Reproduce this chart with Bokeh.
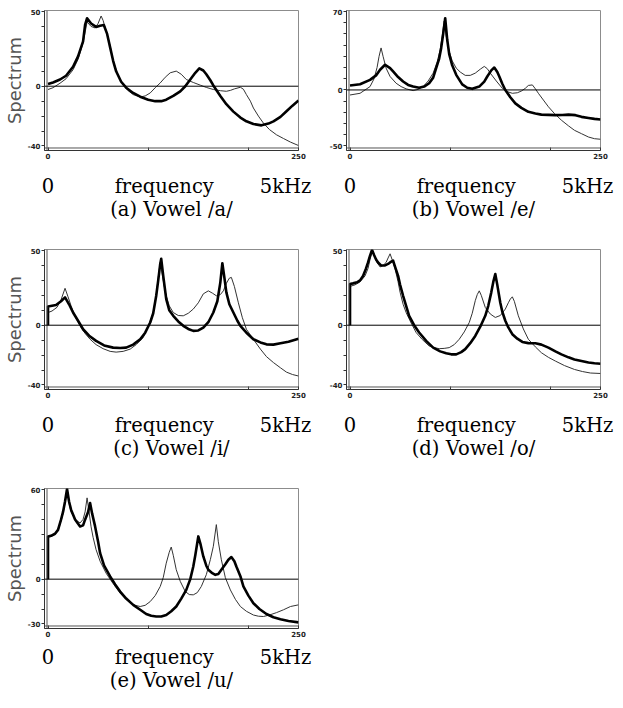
from bokeh.plotting import figure
from bokeh.layouts import column, row
from bokeh.models import Range1d, Span, LinearAxis, FixedTicker
from bokeh.embed import file_html
from bokeh.resources import INLINE

# ---------------- data ----------------
X_TICKS = [0, 100, 200, 250]
X_TICK_LABELS = {0: "0", 100: "", 200: "", 250: "250"}
FREQ_TICKS = [0, 116, 237]
FREQ_LABELS = {0: "0", 116: "frequency", 237: "5kHz"}
Y_LABEL = "Spectrum"

captions = ["(a) Vowel /a/", "(b) Vowel /e/", "(c) Vowel /i/", "(d) Vowel /o/", "(e) Vowel /u/"]
y_min = [-40, -50, -40, -40, -30]
y_max = [50, 70, 50, 50, 60]

a_thick_x = [0, 5, 12, 18, 25, 30, 35, 37, 39, 43, 48, 52, 55.7, 59, 62, 65, 68, 73, 78, 85, 92, 100, 107, 113,
             118, 125, 132, 137, 142, 147, 151, 155, 158, 162, 165, 172, 178, 185, 192, 198, 205, 213, 220, 225,
             232, 238, 244, 250]
a_thick_y = [1.5, 2.5, 4.5, 7, 13, 20, 30, 41, 45.5, 42, 39.7, 40.5, 41, 35, 26, 17, 10, 3, -1, -4.5, -7, -9, -10,
             -10, -9, -6.5, -3.4, 0, 4.5, 9, 11.9, 10.5, 8, 4, 0.5, -6.5, -12, -17, -21, -23.5, -25.3, -26.2, -25,
             -23.5, -20.5, -16.8, -13, -9.6]
a_thin_x = [0, 5, 12, 18, 25, 30, 35, 39, 43, 47, 50, 53, 55, 58, 62, 65, 70, 75, 80, 85, 92, 97, 102, 107, 112,
            117, 122, 128, 133, 138, 145, 152, 158, 165, 172, 178, 182, 186, 192, 195, 198, 202, 205, 210, 215,
            221, 228, 235, 242, 250]
a_thin_y = [-2.2, -1, 2, 5, 11, 18, 29, 43, 40, 39, 42, 47, 44, 37, 27, 17, 7, 1, -3, -5.6, -7.2, -6.5, -4.5, -1,
            2.2, 6, 9, 10.1, 8, 4.5, 2.5, 0.7, -0.8, -2.2, -3, -3.4, -2.8, -1.8, -0.7, -2, -5.6, -10, -14.6, -20,
            -24.7, -29, -32.5, -35, -37.4, -39.7]

b_thick_x = [0, 10, 20, 26, 30, 35, 40, 43, 48, 53, 58, 63, 69, 74, 79, 83, 86, 89, 91, 93, 95, 97, 99, 102, 106,
             112, 117, 122, 129, 134, 137, 141, 144, 147, 149, 152, 155, 160, 165, 171, 178, 185, 191, 198, 205,
             212, 218, 225, 231, 238, 244, 250]
b_thick_y = [3.9, 5.1, 9, 13, 18, 22.5, 19.5, 16.5, 11.5, 7.5, 4.5, 3, 2, 3, 6, 11, 19.5, 28, 37.5, 50, 64, 45, 32,
             22, 13.5, 5, 2, 1, 3, 7.5, 12, 17.5, 20, 16, 12, 5.5, 0, -6.5, -12, -16, -19.5, -21, -22, -22.2,
             -22.5, -22.3, -22, -22.5, -24, -25, -25.8, -26.4]
b_thin_x = [0, 10, 20, 24, 27, 29, 31, 33, 36, 40, 46, 51, 56, 63, 68, 73, 78, 83, 87, 90, 92, 94, 96, 99, 102,
            106, 110, 115, 120, 125, 130, 134, 137, 140, 146, 152, 157, 162, 167, 171, 175, 178, 182, 185, 188,
            193, 198, 204, 211, 218, 224, 231, 238, 244, 250]
b_thin_y = [-4.5, -3, 3, 10, 20, 30, 37.5, 30, 19.5, 12, 6, 3, 1, -0.6, 0.5, 3, 8, 15, 25, 36, 48, 61.5, 48, 34.5,
            26, 19.5, 16, 13, 13, 15, 18.5, 21, 19, 15, 8, 1.5, -1.5, -3, -2.5, -1, 1.5, 4, 4.5, 1, -3, -9, -15,
            -21, -27, -32, -36, -39, -42, -43.5, -44]

c_thick_x = [0, 0, 4, 8, 13, 17, 21, 25, 30, 35, 41, 48, 56, 65, 72, 78, 85, 92, 97, 102, 105, 108, 110, 112, 113,
             115, 118, 121, 125, 130, 135, 140, 145, 150, 155, 160, 165, 169, 172, 174, 176, 178, 181, 185, 189,
             192, 198, 205, 212, 218, 225, 232, 240, 250]
c_thick_y = [0, 12.5, 13, 13.5, 16, 18.6, 14, 8.5, 3, -2.7, -7, -10.5, -13.5, -15, -15.2, -15, -13, -9.4, -5, 1.8,
             8, 19.7, 30, 41, 44.4, 33, 17.5, 10, 6.3, 2.5, -0.4, -2.5, -3.8, -3.5, -1.6, 2, 8.5, 16, 28.7, 41.5,
             32, 22, 14, 8.5, 3, -0.4, -5, -9.4, -11.5, -12.8, -13, -12.1, -11, -9]
c_thin_x = [0, 0, 4, 9, 13, 17, 20, 23, 27, 32, 37, 42, 48, 55, 62, 68, 75, 82, 88, 95, 100, 105, 108, 110, 112,
            114, 116, 118, 121, 125, 130, 135, 140, 145, 150, 155, 160, 164, 168, 172, 175, 178, 181, 183, 186,
            190, 194, 198, 205, 212, 218, 225, 232, 238, 244, 250]
c_thin_y = [0, 8.5, 9.5, 12, 17, 24.7, 19, 13, 6, -0.4, -5.5, -9.4, -13, -15.7, -17.5, -18, -17.5, -16, -13, -8.3,
            -1, 8.5, 20, 32, 42, 34, 26, 19.7, 13, 8.5, 6.5, 6.3, 8, 10.8, 15, 21, 23, 21.5, 19.7, 20.5, 23, 28,
            31.5, 32, 26, 15, 5, -2.7, -9.5, -16, -21, -25, -28.5, -31.4, -33, -34]

d_thick_x = [0, 0, 3, 7, 10, 13, 16, 18, 20, 22, 24, 26, 28, 31, 35, 38, 40, 43, 45, 48, 50, 53, 56, 59, 64, 69,
             76, 83, 90, 96, 101, 106, 111, 115, 120, 125, 130, 135, 138, 141, 143, 145, 147, 150, 152, 155, 158,
             162, 167, 172, 178, 185, 191, 198, 205, 211, 218, 224, 231, 238, 244, 250]
d_thick_y = [0, 27.6, 28, 28.7, 30, 33, 38, 42, 46.5, 50.4, 47, 44, 42, 40, 40, 41, 42, 43.3, 39, 33, 27, 19.7, 13,
             6.3, 0, -4.9, -10.5, -15, -17.5, -18.8, -19.5, -19.5, -18, -16, -12, -7.2, -1, 6.3, 13, 22, 29, 34.3,
             27, 15, 9, 3, -1.5, -6, -9, -11.2, -12, -12.1, -13, -15, -17.5, -19.5, -21.5, -22.9, -24, -25, -25.5,
             -25.8]
d_thin_x = [0, 0, 5, 10, 15, 18, 20, 22, 24, 27, 30, 33, 36, 38, 40, 42, 45, 48, 50, 53, 56, 61, 66, 72, 79, 84,
            89, 94, 99, 104, 109, 114, 119, 122, 125, 127, 129, 131, 135, 140, 145, 150, 155, 158, 160, 162, 164,
            168, 173, 178, 185, 191, 198, 205, 214, 224, 232, 240, 250]
d_thin_y = [0, 26, 27, 29, 33, 38, 44, 49, 47, 42, 39, 40, 42, 45, 47.8, 44, 37.7, 29, 22, 14, 8.5, 1.5, -4.9,
            -9.5, -13.9, -15, -15.7, -15.5, -15, -13, -9.4, -4.5, 1.8, 8, 16.4, 20.5, 23, 20, 11.9, 7.5, 5.2, 6.5,
            10.8, 15, 17.5, 19, 16, 6.3, -2.5, -9.4, -14.5, -18.4, -21.5, -24, -27, -29.6, -31, -32, -32.3]

e_thick_x = [0, 0, 3, 7, 10, 13, 15, 17, 19, 21, 23, 27, 32, 35, 37, 40, 42, 44, 47, 50, 52, 56, 62, 67, 72, 78,
             85, 92, 98, 103, 108, 113, 118, 123, 128, 133, 138, 142, 145, 147, 150, 152, 155, 158, 160, 164, 167,
             170, 173, 177, 180, 183, 186, 188, 192, 195, 200, 205, 211, 218, 225, 232, 240, 250]
e_thick_y = [0, 28.6, 29, 30.4, 33, 39.8, 45, 52, 60.4, 52, 46.5, 40, 35.3, 36, 39.8, 45, 51, 44, 35.3, 25, 17.4, 9,
             1.8, -3.5, -8.3, -13, -17.2, -20.5, -23.3, -24.5, -25, -25, -24, -21.5, -18.3, -13, -7.2, 0, 8.5, 16,
             28.6, 24, 15.2, 9, 6.3, 4, 2.9, 3.5, 6.3, 10, 13, 14.8, 12, 8.5, 2, -4.9, -11, -16.1, -20, -23.3,
             -25.5, -26.8, -28, -28.9]
e_thin_x = [0, 0, 3, 7, 10, 13, 15, 17, 19, 21, 23, 27, 32, 35, 37, 39, 41, 43, 45, 48, 52, 58, 65, 72, 78, 85, 92,
            97, 102, 107, 112, 115, 118, 121, 123, 125, 128, 132, 137, 141, 145, 149, 153, 158, 162, 165, 168, 170,
            173, 177, 182, 187, 192, 198, 205, 210, 215, 221, 228, 235, 242, 250]
e_thin_y = [0, 28, 28.5, 30, 32.5, 39, 44, 51, 58.8, 51, 45, 40, 37.6, 40, 45, 54.4, 45, 35, 28, 19.7, 12, 4, -3,
            -9.4, -13.5, -17.2, -18.3, -17.5, -15, -11, -4.9, 1, 10.7, 18, 21.5, 16, 6.3, -1.5, -8.3, -10.3, -10.5,
            -9, -4.9, 3, 13, 22, 36.5, 25, 13, 1, -7.2, -13.5, -18.3, -21.5, -24, -24.8, -25, -24, -22.4, -20.5,
            -18.3, -17.2]

# ---------------- drawing ----------------
FRAME_W = 254
FRAME_H = 140
SERIF = "DejaVu Serif, Liberation Serif, serif"
SANS = "DejaVu Sans"


def make_panel(caption, ymin, ymax, thick_x, thick_y, thin_x, thin_y, left_col, last_row):
    k = 134.0 / (ymax - ymin)  # px per data unit
    bl = 38 if left_col else 21
    br = 27 if left_col else 18
    bb = 70 if last_row else 89
    y0 = ymin - 4.5 / k
    p = figure(frame_width=FRAME_W, frame_height=FRAME_H,
               x_range=Range1d(-3.5, 250), y_range=Range1d(y0, ymax + 1.0 / k),
               x_axis_type=None, y_axis_type=None,
               output_backend="svg", toolbar_location=None,
               min_border_left=bl, min_border_right=br, min_border_top=10, min_border_bottom=bb)
    p.outline_line_color = "#8c8c8c"
    p.outline_line_width = 1
    p.background_fill_color = "white"
    p.border_fill_color = "white"

    yticks = list(range(ymin, ymax + 1, 10))
    yax = LinearAxis(ticker=FixedTicker(ticks=yticks),
                     major_label_overrides={t: (str(t) if t in (ymin, 0, ymax) else "") for t in yticks})
    yax.axis_line_color = "#333333"
    yax.major_tick_line_color = "#333333"
    yax.major_tick_out = 3
    yax.major_tick_in = 0
    yax.minor_tick_line_color = None
    yax.major_label_text_font = SANS
    yax.major_label_text_font_size = "7px"
    yax.major_label_text_font_style = "bold"
    yax.major_label_text_color = "#222222"
    yax.major_label_standoff = 1
    if left_col:
        yax.axis_label = Y_LABEL
        yax.axis_label_text_font = SANS
        yax.axis_label_text_font_size = "18px"
        yax.axis_label_text_font_style = "normal"
        yax.axis_label_text_color = "#555555"
        yax.axis_label_standoff = 0
    p.add_layout(yax, "left")

    xax = LinearAxis(ticker=FixedTicker(ticks=X_TICKS), major_label_overrides=X_TICK_LABELS)
    xax.axis_line_color = "#333333"
    xax.major_tick_line_color = "#333333"
    xax.major_tick_in = 3
    xax.major_tick_out = 0
    xax.minor_tick_line_color = None
    xax.major_label_text_font = SANS
    xax.major_label_text_font_size = "7px"
    xax.major_label_text_font_style = "bold"
    xax.major_label_text_color = "#222222"
    xax.major_label_standoff = 2
    p.add_layout(xax, "below")

    fax = LinearAxis(ticker=FixedTicker(ticks=FREQ_TICKS), major_label_overrides=FREQ_LABELS)
    fax.axis_line_color = None
    fax.major_tick_line_color = None
    fax.minor_tick_line_color = None
    fax.major_label_text_font = SERIF
    fax.major_label_text_font_size = "19.5px"
    fax.major_label_text_color = "black"
    fax.major_label_standoff = 0 if last_row else 7
    fax.axis_label = caption
    fax.axis_label_text_font = SERIF
    fax.axis_label_text_font_size = "19.5px"
    fax.axis_label_text_font_style = "normal"
    fax.axis_label_text_color = "black"
    fax.axis_label_standoff = -3
    p.add_layout(fax, "below")

    # inner double lines and zero line
    p.add_layout(Span(location=-1, dimension="height", line_color="#555555", line_width=1))
    p.add_layout(Span(location=y0 + 2.5 / k, dimension="width", line_color="#555555", line_width=1))
    p.add_layout(Span(location=0, dimension="width", line_color="black", line_width=1))

    p.line(thin_x, thin_y, line_color="#333333", line_width=1, line_join="round")
    p.line(thick_x, thick_y, line_color="black", line_width=2.6, line_join="round")
    return p


pa = make_panel(captions[0], y_min[0], y_max[0], a_thick_x, a_thick_y, a_thin_x, a_thin_y, True, False)
pb = make_panel(captions[1], y_min[1], y_max[1], b_thick_x, b_thick_y, b_thin_x, b_thin_y, False, False)
pc = make_panel(captions[2], y_min[2], y_max[2], c_thick_x, c_thick_y, c_thin_x, c_thin_y, True, False)
pd = make_panel(captions[3], y_min[3], y_max[3], d_thick_x, d_thick_y, d_thin_x, d_thin_y, False, False)
pe = make_panel(captions[4], y_min[4], y_max[4], e_thick_x, e_thick_y, e_thin_x, e_thin_y, True, True)

layout = column(row(pa, pb), row(pc, pd), row(pe))

open("out.html", "w").write(file_html(layout, INLINE))
